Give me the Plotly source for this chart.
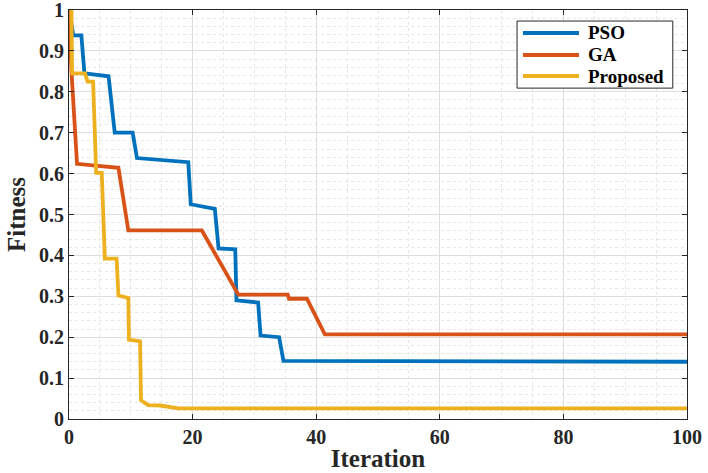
import plotly.graph_objects as go

# ---- data ----
pso_x = [0, 0.7, 2.0, 2.5, 6.4, 7.4, 10.3, 11.0, 19.3, 19.7, 23.6, 24.2, 26.9, 27.1, 30.6, 31.0, 34.0, 34.7, 100]
pso_y = [1.0, 0.938, 0.938, 0.845, 0.838, 0.700, 0.700, 0.638, 0.628, 0.525, 0.514, 0.417, 0.415, 0.290, 0.285, 0.204, 0.200, 0.142, 0.140]

ga_x = [0, 0.4, 1.3, 8.0, 9.6, 21.5, 27.4, 35.4, 35.6, 38.5, 41.4, 100]
ga_y = [1.0, 0.85, 0.624, 0.614, 0.461, 0.461, 0.304, 0.304, 0.294, 0.294, 0.207, 0.207]

prop_x = [0.4, 0.5, 2.6, 3.0, 3.9, 4.4, 5.3, 5.8, 7.7, 8.0, 9.6, 9.7, 11.5, 11.65, 12.8, 14.7, 17.7, 100]
prop_y = [1.0, 0.845, 0.845, 0.825, 0.825, 0.602, 0.602, 0.392, 0.392, 0.302, 0.296, 0.194, 0.19, 0.046, 0.034, 0.033, 0.026, 0.026]

names = ["PSO", "GA", "Proposed"]
colors = ["#0072BD", "#D95319", "#EDB120"]

x_ticks = [0, 20, 40, 60, 80, 100]
y_ticks = [0, 0.1, 0.2, 0.3, 0.4, 0.5, 0.6, 0.7, 0.8, 0.9, 1]
y_ticktext = ["0", "0.1", "0.2", "0.3", "0.4", "0.5", "0.6", "0.7", "0.8", "0.9", "1"]

FONT = "'Liberation Serif', 'Times New Roman', Times, serif"
AX = "#262626"

fig = go.Figure()
for xs, ys, n, c in zip([pso_x, ga_x, prop_x], [pso_y, ga_y, prop_y], names, colors):
    fig.add_trace(go.Scatter(x=xs, y=ys, mode="lines", name=n,
                             line=dict(color=c, width=3.8), showlegend=False))

axis_common = dict(
    showline=True, linecolor=AX, linewidth=1, mirror="ticks",
    ticks="inside", ticklen=5, tickcolor=AX,
    showgrid=True, gridcolor="#dedede", gridwidth=1,
    zeroline=False, ticklabeloverflow="allow", automargin=False,
    tickfont=dict(family=FONT, size=20, color=AX, weight="bold"),
)

fig.update_xaxes(
    range=[0, 100], tickvals=x_ticks,
    minor=dict(dtick=5, showgrid=True, gridcolor="#e6e6e6", griddash="dot", ticks=""),
    title=dict(text="Iteration", font=dict(family=FONT, size=25, color=AX, weight="bold"), standoff=2),
    **axis_common)
fig.update_yaxes(
    range=[0, 1], tickvals=y_ticks, ticktext=y_ticktext,
    minor=dict(dtick=0.02, showgrid=True, gridcolor="#e6e6e6", griddash="dot", ticks=""),
    title=dict(text="Fitness", font=dict(family=FONT, size=25, color=AX, weight="bold"), standoff=6),
    **axis_common)

# ---- custom legend box (paper coordinates) ----
leg_x0, leg_x1, leg_y0, leg_y1 = 0.725, 0.977, 0.809, 0.973
line_x0, line_x1, text_x = 0.7346, 0.8252, 0.8366
row_y = [0.9438, 0.8900, 0.8386]

shapes = [dict(type="rect", xref="paper", yref="paper",
               x0=leg_x0, x1=leg_x1, y0=leg_y0, y1=leg_y1,
               line=dict(color=AX, width=1), fillcolor="white", layer="above")]
annotations = []
for n, c, ry in zip(names, colors, row_y):
    shapes.append(dict(type="line", xref="paper", yref="paper",
                       x0=line_x0, x1=line_x1, y0=ry, y1=ry,
                       line=dict(color=c, width=3.8), layer="above"))
    annotations.append(dict(xref="paper", yref="paper", x=text_x, y=ry,
                            xanchor="left", yanchor="middle", showarrow=False,
                            text=n, font=dict(family=FONT, size=19, color="black", weight="bold")))

fig.update_layout(
    width=708, height=473,
    margin=dict(l=69, r=21, t=10, b=54),
    paper_bgcolor="white", plot_bgcolor="white",
    font=dict(family=FONT),
    shapes=shapes, annotations=annotations,
    showlegend=False,
)

fig.write_html("out.html")
